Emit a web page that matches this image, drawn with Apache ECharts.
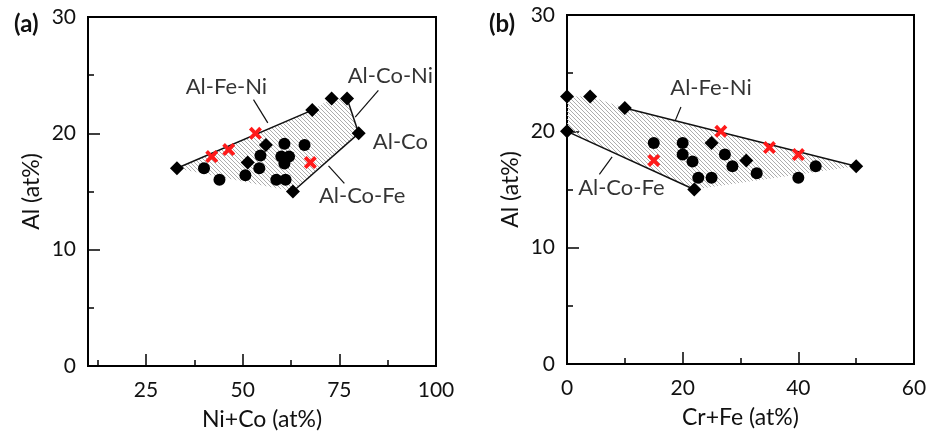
<!DOCTYPE html>
<html>
<head>
<meta charset="utf-8">
<script src="https://cdn.jsdelivr.net/npm/echarts@6/dist/echarts.min.js"></script>
<style>
  html, body { margin: 0; padding: 0; background: #fff; }
  #chart { width: 939px; height: 441px; }
</style>
</head>
<body>
<div id="chart"></div>
<script>
  'use strict';

  /* panel (a): Ni+Co vs Al */
  var aXTicks = [25, 50, 75, 100];
  var aXMinor = [12.5, 37.5, 62.5, 87.5];
  var aDiamonds = [[33, 17], [51.3, 17.5], [56, 19], [63, 15], [68, 22], [73, 23], [77, 23], [80, 20]];
  var aCircles = [[40, 17], [44, 16], [50.7, 16.4], [54.6, 18.1], [54.3, 17], [60.8, 19.1], [60, 18], [62, 18],
                  [60.8, 17.4], [58.7, 16], [61.1, 16], [66, 19]];
  var aCrosses = [[42, 18], [46.4, 18.6], [53.3, 20], [67.5, 17.5]];
  var aRegion = [[33, 17], [68, 22], [73, 23], [77, 23], [80, 20], [63, 15]];
  var aEdges = [[[33, 17], [68, 22]], [[77, 23], [80, 20]], [[80, 20], [63, 15]]];
  var aLeaders = [[[52.8, 22.9], [56.5, 20.9]], [[85.1, 23.7], [79.1, 21.4]], [[72.2, 17.2], [76.3, 15.7]]];
  var aNotes = [
    { name: 'Al-Fe-Ni', value: [45.8, 24.0] },
    { name: 'Al-Co-Ni', value: [88.2, 24.9] },
    { name: 'Al-Co', value: [90.8, 19.3] },
    { name: 'Al-Co-Fe', value: [80.9, 14.6] }
  ];

  /* panel (b): Cr+Fe vs Al */
  var bDiamonds = [[0, 23], [4, 23], [10, 22], [0, 20], [22, 15], [25, 19], [31, 17.5], [50, 17]];
  var bCircles = [[15, 19], [20, 19], [20, 18], [21.7, 17.4], [22.7, 16], [25, 16], [27.3, 18], [28.6, 17],
                  [32.8, 16.4], [40, 16], [43, 17]];
  var bCrosses = [[15, 17.5], [26.6, 20], [35, 18.6], [40, 18]];
  var bRegion = [[0, 23], [4, 23], [10, 22], [50, 17], [22, 15], [0, 20]];
  var bEdges = [[[10, 22], [50, 17]], [[0, 20], [22, 15]]];
  var bLeaders = [[[19.7, 22.1], [18.7, 20.9]], [[7.8, 17.8], [5.6, 16.3]]];
  var bNotes = [
    { name: 'Al-Fe-Ni', value: [24.9, 23.7] },
    { name: 'Al-Co-Fe', value: [9.4, 15.1] }
  ];

  var FONT = 'Lato';
  var crossPath = 'path://M2.5,0 L6,3.5 L9.5,0 L12,2.5 L8.5,6 L12,9.5 L9.5,12 L6,8.5 L2.5,12 L0,9.5 L3.5,6 L0,2.5 Z';

  // hatch pattern for the shaded regions
  var hatch = document.createElement('canvas');
  hatch.width = 4;
  hatch.height = 4;
  var hc = hatch.getContext('2d');
  hc.strokeStyle = '#adadad';
  hc.lineWidth = 1;
  hc.beginPath();
  hc.moveTo(-1, -1); hc.lineTo(5, 5);
  hc.moveTo(-1, 3); hc.lineTo(1, 5);
  hc.moveTo(3, -1); hc.lineTo(5, 1);
  hc.stroke();

  function hatchSeries(region, xi, yi) {
    return {
      type: 'custom',
      xAxisIndex: xi,
      yAxisIndex: yi,
      silent: true,
      z: 1,
      data: [region[0]],
      renderItem: function (params, api) {
        var pts = region.map(function (p) { return api.coord(p); });
        return {
          type: 'polygon',
          shape: { points: pts },
          style: { fill: { image: hatch, repeat: 'repeat' }, stroke: null }
        };
      }
    };
  }

  function segSeries(segs, xi, yi, w) {
    return {
      type: 'lines',
      coordinateSystem: 'cartesian2d',
      xAxisIndex: xi,
      yAxisIndex: yi,
      silent: true,
      z: 2,
      data: segs.map(function (s) { return { coords: s }; }),
      lineStyle: { color: '#111', width: w, opacity: 1 }
    };
  }

  function markSeries(data, xi, yi, symbol, size, color) {
    return {
      type: 'scatter',
      xAxisIndex: xi,
      yAxisIndex: yi,
      data: data,
      symbol: symbol,
      symbolSize: size,
      itemStyle: { color: color, opacity: 1 },
      z: 3
    };
  }

  function noteSeries(data, xi, yi) {
    return {
      type: 'scatter',
      xAxisIndex: xi,
      yAxisIndex: yi,
      data: data,
      symbolSize: 1,
      itemStyle: { color: 'rgba(0,0,0,0)' },
      silent: true,
      z: 4,
      label: {
        show: true,
        position: 'inside',
        formatter: '{b}',
        color: '#000',
        textBorderWidth: 0,
        fontSize: 22,
        fontFamily: FONT
      }
    };
  }

  var tickStyle = { color: '#000', width: 1.5 };
  var labelStyle = { color: '#111', fontSize: 21, fontFamily: FONT };
  var nameStyle = { color: '#111', fontSize: 23, fontFamily: FONT };

  function yAxisFor(gi) {
    return {
      type: 'value',
      gridIndex: gi,
      min: 0,
      max: 30,
      interval: 10,
      name: 'Al (at%)',
      nameLocation: 'middle',
      nameGap: 45,
      nameTextStyle: nameStyle,
      axisLine: { show: true, lineStyle: { color: '#000', width: 2 } },
      axisTick: { show: true, inside: true, length: 12, lineStyle: tickStyle },
      minorTick: { show: true, splitNumber: 2, length: 6, lineStyle: tickStyle },
      axisLabel: Object.assign({ margin: 12 }, labelStyle),
      splitLine: { show: false }
    };
  }

  var chart = echarts.init(document.getElementById('chart'), null, { renderer: 'canvas' });

  var option = {
    animation: false,
    backgroundColor: '#fff',
    title: [
      { text: '(a)', left: 9, top: 7, textStyle: { fontSize: 24, fontWeight: 'bold', fontFamily: FONT, color: '#111' } },
      { text: '(b)', left: 484, top: 7, textStyle: { fontSize: 24, fontWeight: 'bold', fontFamily: FONT, color: '#111' } }
    ],
    grid: [
      { left: 88, top: 17, width: 348, height: 349, show: true, borderColor: '#000', borderWidth: 2, backgroundColor: 'transparent' },
      { left: 567, top: 15, width: 347, height: 349, show: true, borderColor: '#000', borderWidth: 2, backgroundColor: 'transparent' }
    ],
    xAxis: [
      {
        type: 'value',
        gridIndex: 0,
        min: 10,
        max: 100,
        name: 'Ni+Co (at%)',
        nameLocation: 'middle',
        nameGap: 42,
        nameTextStyle: nameStyle,
        axisLine: { show: true, lineStyle: { color: '#000', width: 2 } },
        axisTick: { show: true, inside: true, length: 12, lineStyle: tickStyle, customValues: aXTicks },
        axisLabel: Object.assign({ margin: 14, customValues: aXTicks }, labelStyle),
        splitLine: { show: false }
      },
      {
        type: 'value',
        gridIndex: 0,
        position: 'bottom',
        min: 10,
        max: 100,
        axisLine: { show: false },
        axisTick: { show: true, inside: true, length: 6, lineStyle: tickStyle, customValues: aXMinor },
        axisLabel: { show: false },
        splitLine: { show: false }
      },
      {
        type: 'value',
        gridIndex: 1,
        min: 0,
        max: 60,
        interval: 20,
        name: 'Cr+Fe (at%)',
        nameLocation: 'middle',
        nameGap: 42,
        nameTextStyle: nameStyle,
        axisLine: { show: true, lineStyle: { color: '#000', width: 2 } },
        axisTick: { show: true, inside: true, length: 12, lineStyle: tickStyle },
        minorTick: { show: true, splitNumber: 2, length: 6, lineStyle: tickStyle },
        axisLabel: Object.assign({ margin: 14 }, labelStyle),
        splitLine: { show: false }
      }
    ],
    yAxis: [yAxisFor(0), yAxisFor(1)],
    series: [
      hatchSeries(aRegion, 0, 0),
      segSeries(aEdges, 0, 0, 1.5),
      segSeries(aLeaders, 0, 0, 1.2),
      markSeries(aDiamonds, 0, 0, 'diamond', 14, '#000'),
      markSeries(aCircles, 0, 0, 'circle', 12, '#000'),
      markSeries(aCrosses, 0, 0, crossPath, 13, '#ff1a1a'),
      noteSeries(aNotes, 0, 0),

      hatchSeries(bRegion, 2, 1),
      segSeries(bEdges, 2, 1, 1.5),
      segSeries(bLeaders, 2, 1, 1.2),
      markSeries(bDiamonds, 2, 1, 'diamond', 14, '#000'),
      markSeries(bCircles, 2, 1, 'circle', 12, '#000'),
      markSeries(bCrosses, 2, 1, crossPath, 13, '#ff1a1a'),
      noteSeries(bNotes, 2, 1)
    ]
  };

  chart.setOption(option);
</script>
</body>
</html>
